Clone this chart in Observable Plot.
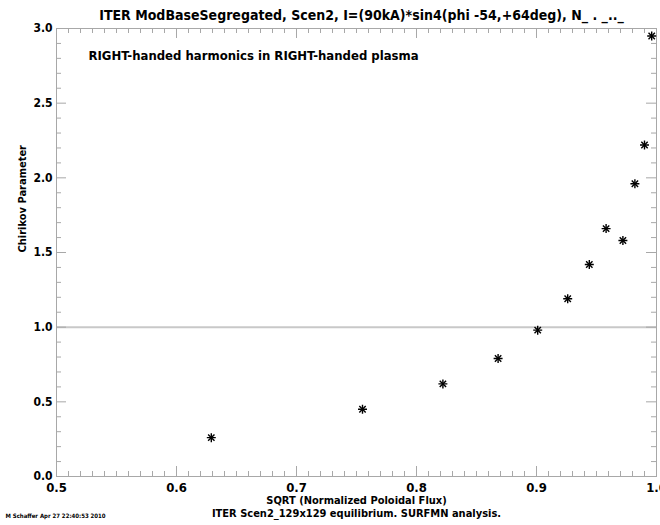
<!DOCTYPE html>
<html>
<head>
<meta charset="utf-8">
<script src="https://cdn.jsdelivr.net/npm/d3@7"></script>
<script src="https://cdn.jsdelivr.net/npm/@observablehq/plot@0.6"></script>
<style>
  html, body { margin: 0; padding: 0; background: #fff; }
  #chart svg { display: block; }
</style>
</head>
<body>
<div id="chart"></div>
<script>
// ---- data ----
const sqrtPsi = [0.629, 0.755, 0.822, 0.868, 0.901, 0.926, 0.944, 0.958, 0.972, 0.982, 0.990, 0.996];
const chirikov = [0.26, 0.45, 0.62, 0.79, 0.98, 1.19, 1.42, 1.66, 1.58, 1.96, 2.22, 2.95];
const xTicks = [0.5, 0.6, 0.7, 0.8, 0.9, 1.0];
const yTicks = [0.0, 0.5, 1.0, 1.5, 2.0, 2.5, 3.0];
const titleText = "ITER ModBaseSegregated, Scen2, I=(90kA)*sin4(phi -54,+64deg), N_ . _.._";
const noteText = "RIGHT-handed harmonics in RIGHT-handed plasma";
const xLabel = "SQRT (Normalized Poloidal Flux)";
const yLabel = "Chirikov Parameter";
const bottomText = "ITER Scen2_129x129 equilibrium. SURFMN analysis.";
const creditText = "M Schaffer Apr 27 22:40:53 2010";

const points = sqrtPsi.map((x, i) => ({x, y: chirikov[i]}));

const W = 660, H = 525;
const mL = 56, mR = 4, mT = 28, mB = 49;
const pw = W - mL - mR, ph = H - mT - mB;
const axisColor = "#a8a8a8";
const xMinor = d3.range(0.5, 1.0001, 0.01).filter(v => Math.abs(v*10 - Math.round(v*10)) > 1e-6);
const yMinor = d3.range(0, 3.0001, 0.1).filter(v => Math.abs(v*2 - Math.round(v*2)) > 1e-6);
const majorLen = 10, minorLen = 5;

const chart = Plot.plot({
  width: W, height: H,
  marginLeft: mL, marginRight: mR, marginTop: mT, marginBottom: mB,
  x: {domain: [0.5, 1.0]},
  y: {domain: [0, 3.0]},
  style: {fontFamily: "'Liberation Sans Narrow', 'DejaVu Sans Condensed', sans-serif", fontWeight: "bold", color: "#000", background: "#fff"},
  marks: [
    Plot.ruleY([1.0], {stroke: "#c8c8c8", strokeWidth: 2}),
    Plot.frame({stroke: axisColor}),
    // bottom ticks
    Plot.ruleX(xTicks, {x: d => d, insetTop: ph - majorLen, stroke: axisColor}),
    Plot.ruleX(xMinor, {x: d => d, insetTop: ph - minorLen, stroke: axisColor}),
    // top ticks
    Plot.ruleX(xTicks, {x: d => d, insetBottom: ph - majorLen, stroke: axisColor}),
    Plot.ruleX(xMinor, {x: d => d, insetBottom: ph - minorLen, stroke: axisColor}),
    // left ticks
    Plot.ruleY(yTicks, {y: d => d, insetRight: pw - majorLen, stroke: axisColor}),
    Plot.ruleY(yMinor, {y: d => d, insetRight: pw - minorLen, stroke: axisColor}),
    // right ticks
    Plot.ruleY(yTicks, {y: d => d, insetLeft: pw - majorLen, stroke: axisColor}),
    Plot.ruleY(yMinor, {y: d => d, insetLeft: pw - minorLen, stroke: axisColor}),
    Plot.axisX({ticks: xTicks, tickSize: 0, tickPadding: 6, tickFormat: d => d.toFixed(1), fontSize: 13, fontWeight: "bold", label: null}),
    Plot.axisY({ticks: yTicks, tickSize: 0, tickPadding: 4, tickFormat: d => d.toFixed(1), fontSize: 12, fontWeight: "bold", label: null}),
    // data: IDL-like asterisk
    Plot.dot(points, {x: "x", y: "y", symbol: "plus", r: 3, stroke: "#000", strokeWidth: 1.4}),
    Plot.dot(points, {x: "x", y: "y", symbol: "times", r: 3, stroke: "#000", strokeWidth: 1.4}),
    // texts
    Plot.text([titleText], {frameAnchor: "top", dx: 5, dy: -18, fontSize: 14, fontWeight: "bold", fill: "#000"}),
    Plot.text([noteText], {frameAnchor: "top-left", dx: 32, dy: 22, textAnchor: "start", fontSize: 13, fontWeight: "bold", fill: "#000"}),
    Plot.text([xLabel], {frameAnchor: "bottom", dy: 27, fontSize: 11, fontWeight: "bold", fill: "#000"}),
    Plot.text([bottomText], {frameAnchor: "bottom", dy: 40, fontSize: 11, fontWeight: "bold", fill: "#000"}),
    Plot.text([creditText], {frameAnchor: "bottom-left", dx: -51, dy: 41, textAnchor: "start", fontSize: 6, fontWeight: "bold", fill: "#000"}),
    Plot.text([yLabel], {frameAnchor: "left", dx: -34, rotate: -90, fontSize: 11, fontWeight: "bold", fill: "#000"})
  ]
});
document.getElementById("chart").appendChild(chart);
</script>
</body>
</html>
